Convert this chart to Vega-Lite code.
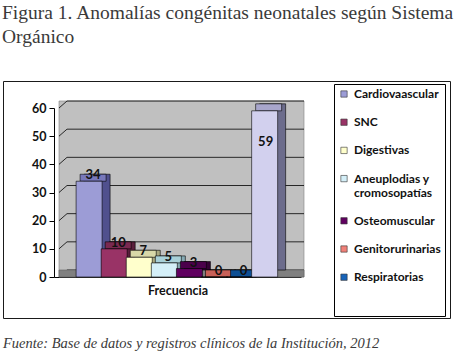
{
  "$schema": "https://vega.github.io/schema/vega-lite/v6.json",
  "padding": {"left": 2, "top": 3, "right": 0, "bottom": 0},
  "background": "white",
  "title": {
    "text": ["Figura 1. Anomalías congénitas neonatales según Sistema", "Orgánico"],
    "anchor": "start",
    "frame": "group",
    "font": "Liberation Serif",
    "fontSize": 19.5,
    "fontWeight": "normal",
    "color": "#3a3a3a",
    "lineHeight": 24,
    "offset": 33,
    "dx": -1
  },
  "datasets": {
    "anomalias": [
      {"categoria": "Cardiovaascular", "orden": 1, "valor": 34},
      {"categoria": "SNC", "orden": 2, "valor": 10},
      {"categoria": "Digestivas", "orden": 3, "valor": 7},
      {"categoria": "Aneuplodias y cromosopatías", "orden": 4, "valor": 5},
      {"categoria": "Osteomuscular", "orden": 5, "valor": 3},
      {"categoria": "Genitorurinarias", "orden": 6, "valor": 0},
      {"categoria": "Respiratorias", "orden": 7, "valor": 0},
      {"categoria": "Total", "orden": 8, "valor": 59}
    ],
    "rejilla": [
      {"v": 0}, {"v": 10}, {"v": 20}, {"v": 30}, {"v": 40}, {"v": 50}, {"v": 60}
    ],
    "uno": [{}]
  },
  "vconcat": [
    {
      "width": 447,
      "height": 237,
      "title": {
        "text": "Fuente: Base de datos y registros clínicos de la Institución, 2012",
        "orient": "bottom",
        "anchor": "start",
        "frame": "group",
        "font": "Liberation Serif",
        "fontStyle": "italic",
        "fontSize": 14.5,
        "fontWeight": "normal",
        "color": "#3a3a3a",
        "offset": 19
      },
      "resolve": {"scale": {"color": "independent"}},
      "layer": [
        {
          "data": {"name": "uno"},
          "mark": {"type": "rect", "fill": "#c0c0c0", "stroke": "#808080", "strokeWidth": 0.6, "x2Offset": 8, "y2Offset": -7},
          "encoding": {
            "x": {"datum": -0.2, "type": "quantitative", "scale": {"domain": [-0.2, 9.25], "range": [51, 298], "nice": false, "zero": false}},
            "x2": {"datum": 9.25},
            "y": {"datum": 0, "type": "quantitative", "scale": {"domain": [0, 60], "range": [196, 27], "nice": false},
              "axis": {"values": [0, 10, 20, 30, 40, 50, 60], "tickCount": 7, "labelOverlap": false, "offset": -51, "grid": false, "domainColor": "#000000", "tickColor": "#000000", "tickSize": 5, "labelFont": "Lato", "labelFontWeight": "bold", "labelFontSize": 12.5, "labelColor": "#111111", "labelPadding": 3, "title": null}},
            "y2": {"datum": 60}
          }
        },
        {
          "data": {"name": "rejilla"},
          "mark": {"type": "rule", "color": "#000000", "strokeWidth": 0.8, "xOffset": 8, "x2Offset": 8, "yOffset": -7},
          "encoding": {
            "x": {"datum": -0.2, "type": "quantitative"},
            "x2": {"datum": 9.25},
            "y": {"field": "v", "type": "quantitative"}
          }
        },
        {
          "data": {"name": "rejilla"},
          "mark": {"type": "rule", "color": "#000000", "strokeWidth": 0.8, "x2Offset": 8, "y2Offset": -7},
          "encoding": {
            "x": {"datum": -0.2, "type": "quantitative"},
            "x2": {"datum": -0.2},
            "y": {"field": "v", "type": "quantitative"},
            "y2": {"field": "v"}
          }
        },
        {
          "data": {"name": "uno"},
          "mark": {"type": "rect", "fill": "#808080", "stroke": "#606060", "strokeWidth": 0.6, "x2Offset": 8, "y2Offset": -7},
          "encoding": {
            "x": {"datum": -0.2, "type": "quantitative"},
            "x2": {"datum": 9.25},
            "y": {"datum": 0, "type": "quantitative"},
            "y2": {"datum": 0}
          }
        },
        {
          "data": {"name": "anomalias"},
          "mark": {"type": "bar", "size": 26, "xOffset": 8, "yOffset": -7, "y2Offset": -7, "stroke": "#000000", "strokeWidth": 0.6},
          "encoding": {
            "x": {"field": "orden", "type": "quantitative"},
            "y": {"field": "valor", "type": "quantitative"},
            "color": {
              "field": "categoria", "type": "nominal", "legend": null,
              "scale": {
                "domain": ["Cardiovaascular", "SNC", "Digestivas", "Aneuplodias y cromosopatías", "Osteomuscular", "Genitorurinarias", "Respiratorias", "Total"],
                "range": ["#50508e", "#5a1e3c", "#a8a880", "#86aab4", "#340034", "#a04840", "#083c70", "#6c6c8c"]
              }
            }
          }
        },
        {
          "data": {"name": "anomalias"},
          "mark": {"type": "bar", "size": 26, "xOffset": 4, "y2Offset": -7, "stroke": "#000000", "strokeWidth": 0.6},
          "encoding": {
            "x": {"field": "orden", "type": "quantitative"},
            "y": {"field": "valor", "type": "quantitative"},
            "y2": {"field": "valor"},
            "color": {
              "field": "categoria", "type": "nominal", "legend": null,
              "scale": {
                "domain": ["Cardiovaascular", "SNC", "Digestivas", "Aneuplodias y cromosopatías", "Osteomuscular", "Genitorurinarias", "Respiratorias", "Total"],
                "range": ["#7878bb", "#7a2950", "#d8d8a8", "#a8d0d8", "#4b004b", "#c86058", "#0d4f94", "#a8a6cc"]
              }
            }
          }
        },
        {
          "data": {"name": "anomalias"},
          "mark": {"type": "bar", "size": 26, "stroke": "#000000", "strokeWidth": 0.6, "opacity": 1},
          "encoding": {
            "x": {
              "field": "orden", "type": "quantitative",
              "axis": {"offset": -41, "labels": false, "ticks": false, "grid": false, "domainColor": "#000000", "domainWidth": 1, "title": "Frecuencia", "titleFont": "Lato", "titleFontWeight": "bold", "titleFontSize": 12.5, "titleColor": "#111111", "titlePadding": 7}
            },
            "y": {
              "field": "valor", "type": "quantitative",
              "axis": {"values": [0, 10, 20, 30, 40, 50, 60], "tickCount": 7, "labelOverlap": false, "offset": -51, "grid": false, "domainColor": "#000000", "tickColor": "#000000", "tickSize": 5, "labelFont": "Lato", "labelFontWeight": "bold", "labelFontSize": 12.5, "labelColor": "#111111", "labelPadding": 3, "title": null}
            },
            "color": {
              "field": "categoria", "type": "nominal",
              "scale": {
                "domain": ["Cardiovaascular", "SNC", "Digestivas", "Aneuplodias y cromosopatías", "Osteomuscular", "Genitorurinarias", "Respiratorias", "Total"],
                "range": ["#9c9cd6", "#993366", "#ffffcc", "#d4eff8", "#600060", "#f08078", "#1763b8", "#d2d0ee"]
              },
              "legend": {
                "values": ["Cardiovaascular", "SNC", "Digestivas", "Aneuplodias y cromosopatías", "Osteomuscular", "Genitorurinarias", "Respiratorias"],
                "orient": "none",
                "legendX": 331,
                "legendY": 3,
                "strokeColor": "#000000",
                "padding": 4,
                "symbolType": "square",
                "symbolSize": 40,
                "symbolStrokeColor": "#333333",
                "symbolStrokeWidth": 0.6,
                "symbolOpacity": 1,
                "labelFont": "Lato",
                "labelFontWeight": "bold",
                "labelFontSize": 12,
                "labelColor": "#111111",
                "labelOffset": 4,
                "rowPadding": 16.2,
                "labelExpr": "datum.label == 'Aneuplodias y cromosopatías' ? ['Aneuplodias y', 'cromosopatías'] : datum.label",
                "title": " ",
                "titleOrient": "bottom",
                "titlePadding": 18
              }
            }
          }
        },
        {
          "data": {"name": "anomalias"},
          "transform": [{"filter": "datum.categoria != 'Total'"}],
          "mark": {"type": "text", "font": "Lato", "fontWeight": "bold", "fontSize": 13, "color": "#111111", "dx": 4, "dy": -2, "baseline": "alphabetic"},
          "encoding": {
            "x": {"field": "orden", "type": "quantitative"},
            "y": {"field": "valor", "type": "quantitative"},
            "text": {"field": "valor", "type": "quantitative"}
          }
        },
        {
          "data": {"name": "anomalias"},
          "transform": [{"filter": "datum.categoria == 'Total'"}],
          "mark": {"type": "text", "font": "Lato", "fontWeight": "bold", "fontSize": 13, "color": "#111111", "dx": 1, "dy": 35, "baseline": "alphabetic"},
          "encoding": {
            "x": {"field": "orden", "type": "quantitative"},
            "y": {"field": "valor", "type": "quantitative"},
            "text": {"field": "valor", "type": "quantitative"}
          }
        }
      ]
    }
  ],
  "config": {
    "view": {"stroke": "#1a1a1a", "strokeWidth": 1},
    "concat": {"spacing": 0}
  }
}
